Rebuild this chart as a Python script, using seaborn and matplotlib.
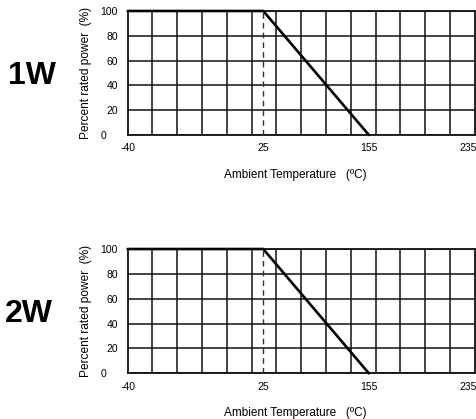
import numpy as np
import pandas as pd
import seaborn as sns
import matplotlib
matplotlib.use("Agg")
from matplotlib import pyplot as plt
from matplotlib import transforms
from matplotlib.ticker import FixedLocator

# derating curve
ratings = ["1W", "2W"]
temps = [-40, 25, 155]
power = [100, 100, 0]
x_ticks = [-40, 25, 155, 235]
y_ticks = [0, 20, 40, 60, 80, 100]

# the printed temperature axis is not linear: tick positions in grid columns
tick_cols = [0, 5.47, 9.73, 14]
n_cols = 14


def to_cols(x):
    return np.interp(x, x_ticks, tick_cols)


def from_cols(c):
    return np.interp(c, tick_cols, x_ticks)


def nudge(label, ax, dx_pt):
    """Shifts a tick label sideways by dx_pt points."""
    label.set_transform(label.get_transform() + transforms.ScaledTranslation(
        dx_pt / 72, 0, ax.figure.dpi_scale_trans))


def draw_derating(ax, df):
    """Draws one derating chart with the datasheet look."""
    ax.set_xscale("function", functions=(to_cols, from_cols))
    ax.set_xlim(x_ticks[0], x_ticks[-1])
    ax.set_ylim(y_ticks[0], y_ticks[-1])

    # grid: one vertical line per column, horizontal at every y tick
    ax.xaxis.set_minor_locator(FixedLocator(from_cols(np.arange(n_cols + 1))))
    ax.set_xticks(x_ticks)
    ax.set_yticks(y_ticks)
    ax.grid(which="minor", axis="x", color="#111111", lw=1.1)
    ax.grid(which="major", axis="y", color="#111111", lw=1.1)
    ax.grid(which="major", axis="x", visible=False)
    ax.set_axisbelow(True)

    sns.lineplot(data=df, x="temp", y="power", ax=ax, color="black",
                 lw=1.9, sort=False, clip_on=False, zorder=5)
    ax.vlines(temps[1], 0, power[1], colors="#333333", lw=1.0,
              linestyles=(0, (4, 3)), zorder=4)

    for side in ax.spines.values():
        side.set_color("#111111")
        side.set_linewidth(1.3)

    ax.tick_params(axis="both", which="both", length=0, labelsize=7.5,
                   colors="black")
    ax.tick_params(axis="x", pad=6)
    ax.tick_params(axis="y", pad=7)

    ax.set_xlabel("Ambient Temperature   (\u00baC)", fontsize=8.5, labelpad=11)
    ax.xaxis.label.set_x(0.482)
    ax.set_ylabel("Percent rated power  (%)", fontsize=8.6, labelpad=6)

    # the "0" label sits further left in the original, "235" stays inside
    nudge(ax.yaxis.get_major_ticks()[0].label1, ax, -8)
    nudge(ax.xaxis.get_major_ticks()[-1].label1, ax, -5)


sns.set_theme(style="white")
plt.rcParams["font.family"] = ["Liberation Sans", "DejaVu Sans"]
plt.rcParams["axes.unicode_minus"] = False
plt.rcParams["text.color"] = "black"
plt.rcParams["axes.labelcolor"] = "black"

fig = plt.figure(figsize=(4.77, 4.19), dpi=100)
df = pd.DataFrame({"temp": temps, "power": power})

panel_boxes = [[0.2677, 0.6778, 0.7275, 0.296],
               [0.2677, 0.1090, 0.7275, 0.2967]]
badge_pos = [(32 / 477, 1 - 76 / 419), (29 / 477, 1 - 314 / 419)]

for rating, box, (bx, by) in zip(ratings, panel_boxes, badge_pos):
    ax = fig.add_axes(box)
    draw_derating(ax, df)
    fig.text(bx, by, rating, ha="center", va="center", fontsize=23,
             fontweight="bold", color="black")

fig.savefig("out.png", dpi=100)
